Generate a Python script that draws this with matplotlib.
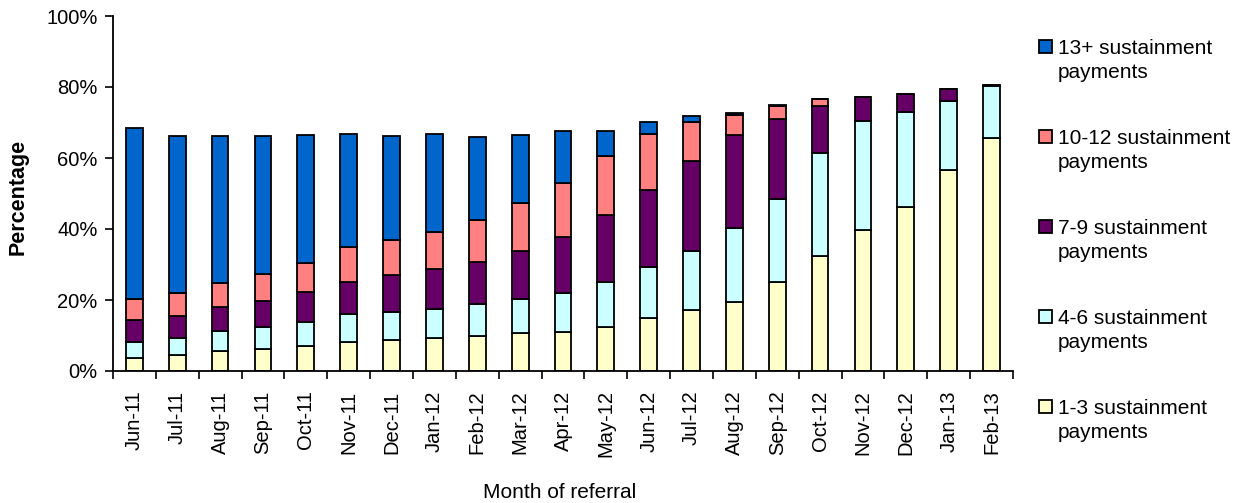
import numpy as np
import matplotlib
matplotlib.use("Agg")
import matplotlib.pyplot as plt
from matplotlib.patches import Rectangle

plt.rcParams['font.family'] = ['Liberation Sans', 'DejaVu Sans']

months = ["Jun-11", "Jul-11", "Aug-11", "Sep-11", "Oct-11", "Nov-11", "Dec-11",
          "Jan-12", "Feb-12", "Mar-12", "Apr-12", "May-12", "Jun-12", "Jul-12",
          "Aug-12", "Sep-12", "Oct-12", "Nov-12", "Dec-12", "Jan-13", "Feb-13"]

# percentage of referrals in each band
pay_1_3 = [3.6, 4.4, 5.5, 6.3, 7.0, 8.2, 8.6, 9.2, 9.8, 10.6, 10.9,
           12.5, 14.8, 17.2, 19.3, 25.0, 32.3, 39.7, 46.2, 56.6, 65.5]
pay_4_6 = [4.7, 4.8, 5.7, 6.0, 6.7, 7.8, 8.0, 8.3, 9.2, 9.8, 11.1,
           12.6, 14.6, 16.5, 20.9, 23.4, 29.0, 30.8, 26.8, 19.5, 14.7]
pay_7_9 = [6.1, 6.3, 6.7, 7.5, 8.5, 9.2, 10.4, 11.3, 11.6, 13.4, 15.8,
           18.8, 21.5, 25.5, 26.2, 22.7, 13.3, 6.6, 5.0, 3.2, 0.5]
pay_10_12 = [5.8, 6.4, 7.0, 7.6, 8.2, 9.6, 9.9, 10.4, 11.9, 13.6, 15.2,
             16.8, 16.0, 11.0, 5.7, 3.6, 2.1, 0.2, 0.0, 0.0, 0.0]
pay_13_plus = [48.3, 44.4, 41.4, 38.9, 36.2, 32.0, 29.2, 27.6, 23.4, 19.0, 14.6,
               6.8, 3.3, 1.5, 0.7, 0.1, 0.0, 0.0, 0.0, 0.0, 0.0]

series = [
    ("1-3 sustainment", pay_1_3, "#FFFFCC"),
    ("4-6 sustainment", pay_4_6, "#CCFFFF"),
    ("7-9 sustainment", pay_7_9, "#660066"),
    ("10-12 sustainment", pay_10_12, "#FF8080"),
    ("13+ sustainment", pay_13_plus, "#0066CC"),
]

W, H = 1238, 503
fig = plt.figure(figsize=(W / 100, H / 100), dpi=100)
ax = fig.add_axes([113 / W, 1 - 371 / H, 900 / W, 355 / H])

x = np.arange(len(months))
bottom = np.zeros(len(months))
for label, vals, col in series:
    vals = np.array(vals)
    ax.bar(x, vals, width=0.39, bottom=bottom, color=col,
           edgecolor="black", linewidth=1.3)
    bottom += vals

ax.set_xlim(-0.5, len(months) - 0.5)
ax.set_ylim(0, 100)
ax.set_yticks(np.arange(0, 101, 20))
ax.set_yticklabels([f"{v}%" for v in range(0, 101, 20)], fontsize=14.5)
ax.tick_params(axis="y", direction="out", length=6, width=1.2, pad=5)

ax.set_xticks(x)
ax.set_xticklabels(months, rotation=90, fontsize=14.5)
ax.set_xticks(np.arange(-0.5, len(months)), minor=True)
ax.tick_params(axis="x", which="major", length=0, pad=14)
ax.tick_params(axis="x", which="minor", direction="out", length=6, width=1.2)

for side in ["top", "right"]:
    ax.spines[side].set_visible(False)
for side in ["left", "bottom"]:
    ax.spines[side].set_linewidth(1.3)

fig.text(18 / W, 1 - 197 / H, "Percentage", rotation=90, ha="center",
         va="center", fontsize=15.5, fontweight="bold")
fig.text(560 / W, 1 - 492 / H, "Month of referral", ha="center",
         va="center", fontsize=15)

# legend: top entry is the top band of the stack
for i, (label, vals, col) in enumerate(series[::-1]):
    base = 54 + 90 * i
    fig.add_artist(Rectangle((1039 / W, 1 - (base - 1) / H), 13 / W, 13 / H,
                             transform=fig.transFigure, facecolor=col,
                             edgecolor="black", linewidth=1.3))
    fig.text(1058 / W, 1 - base / H, label, ha="left", va="baseline",
             fontsize=15)
    fig.text(1058 / W, 1 - (base + 24) / H, "payments", ha="left",
             va="baseline", fontsize=15)

fig.savefig("out.png", dpi=100)
